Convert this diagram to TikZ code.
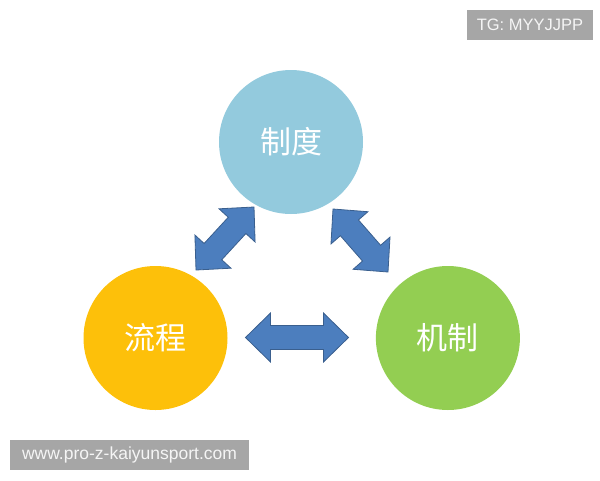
\documentclass[tikz,border=0pt]{standalone}
\usepackage{fontspec}
\setmainfont{Liberation Sans}
\newfontfamily\cjk{Noto Sans CJK SC}
\usepackage{tikz}
\usetikzlibrary{calc, positioning}
\definecolor{zdfill}{HTML}{93CADD}
\definecolor{lcfill}{HTML}{FDC00A}
\definecolor{jzfill}{HTML}{93CE52}
\definecolor{arrfill}{HTML}{4C7EBE}
\definecolor{arrline}{HTML}{3A5F8E}
\definecolor{tagfill}{HTML}{A6A6A6}
\tikzset{
circ/.style={
  circle, minimum size=144pt, inner sep=0pt,
  text=white, font=\cjk\fontsize{31}{31}\selectfont
},
dblarrow/.style={
  draw=arrline, fill=arrfill, line width=0.8pt, line join=miter,
  to path={
    -- ($(\tikztostart)!25pt!(\tikztotarget)!24.5pt!90:(\tikztotarget)$)
    -- ($(\tikztostart)!25pt!(\tikztotarget)!12pt!90:(\tikztotarget)$)
    -- ($(\tikztotarget)!25pt!(\tikztostart)!12pt!-90:(\tikztostart)$)
    -- ($(\tikztotarget)!25pt!(\tikztostart)!24.5pt!-90:(\tikztostart)$)
    -- (\tikztotarget)
    -- ($(\tikztotarget)!25pt!(\tikztostart)!24.5pt!90:(\tikztostart)$)
    -- ($(\tikztotarget)!25pt!(\tikztostart)!12pt!90:(\tikztostart)$)
    -- ($(\tikztostart)!25pt!(\tikztotarget)!12pt!-90:(\tikztotarget)$)
    -- ($(\tikztostart)!25pt!(\tikztotarget)!24.5pt!-90:(\tikztotarget)$)
    -- cycle
  }
},
tag/.style={
  fill=tagfill, text=white!96!black, inner sep=0pt,
  minimum height=30pt, font=\fontsize{16.5}{16.5}\selectfont
},
}

\begin{document}
\begin{tikzpicture}[x=1pt, y=-1pt]
  \useasboundingbox (0,0) rectangle (600,480);
  % three circles
  \node[circ, fill=zdfill] (zd) at (291,142) {制度};
  \node[circ, fill=lcfill] (lc) at (155.5,338) {流程};
  \node[circ, fill=jzfill, right=148pt of lc] (jz) {机制};
  % arrow tips
  \coordinate (a1) at (196,270);
  \coordinate (a2) at (254,207);
  \coordinate (b1) at (333,209);
  \coordinate (b2) at (388,272);
  \coordinate (c1) at (245.5,337.5);
  \coordinate (c2) at (348.5,337.5);
  \draw[dblarrow] (a1) to (a2);
  \draw[dblarrow] (b1) to (b2);
  \draw[dblarrow] (c1) to (c2);
  % watermarks
  \node[tag, minimum width=126pt] (tg) at (530,25) {TG: MYYJJPP};
  \node[tag, minimum width=239pt, font=\fontsize{17.5}{17.5}\selectfont] (url) at (129.5,455) {www.pro-z-kaiyunsport.com};
\end{tikzpicture}
\end{document}
